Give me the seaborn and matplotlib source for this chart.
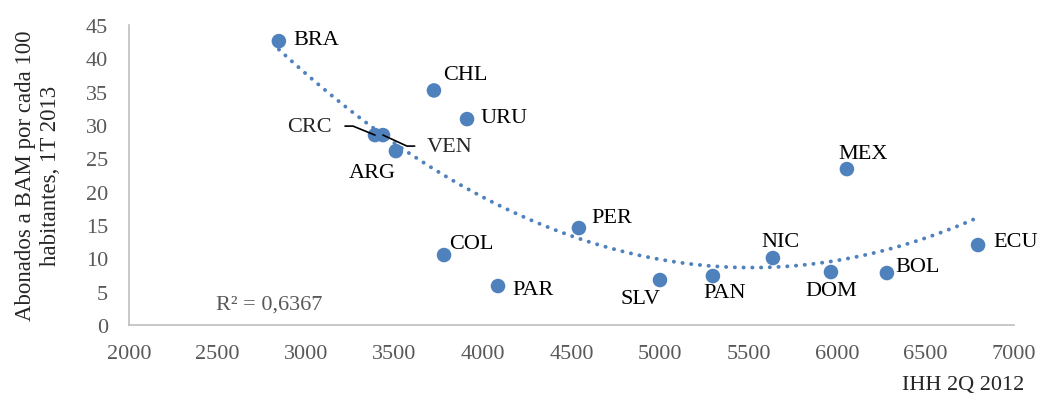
import numpy as np
import pandas as pd
import matplotlib
matplotlib.use("Agg")
import matplotlib.pyplot as plt
import seaborn as sns

# data
countries = ["BRA", "CHL", "URU", "CRC", "VEN", "ARG", "COL", "PAR", "PER",
             "SLV", "PAN", "NIC", "DOM", "BOL", "MEX", "ECU"]
ihh = [2847, 3723, 3910, 3390, 3435, 3508, 3780, 4085, 4542,
       5000, 5299, 5638, 5966, 6282, 6056, 6797]
abonados = [42.6, 35.2, 30.9, 28.5, 28.5, 26.1, 10.5, 5.85, 14.55,
            6.75, 7.35, 10.05, 7.95, 7.8, 23.4, 12.0]
x_ticks = [2000, 2500, 3000, 3500, 4000, 4500, 5000, 5500, 6000, 6500, 7000]
y_ticks = [0, 5, 10, 15, 20, 25, 30, 35, 40, 45]
r2_text = "R² = 0,6367"

# label placement (offset in pixels from the marker, alignment)
label_pos = {
    "BRA": (14, 2, "left", "center"),
    "CHL": (9, 16, "left", "center"),
    "URU": (13, 2, "left", "center"),
    "ARG": (-24, -21, "center", "center"),
    "COL": (5, 12, "left", "center"),
    "PAR": (14, -3, "left", "center"),
    "PER": (12, 11, "left", "center"),
    "SLV": (-19, -18, "center", "center"),
    "PAN": (12, -16, "center", "center"),
    "NIC": (8, 17, "center", "center"),
    "DOM": (0, -18, "center", "center"),
    "BOL": (8, 7, "left", "center"),
    "MEX": (16, 16, "center", "center"),
    "ECU": (15, 4, "left", "center"),
}

df = pd.DataFrame({"pais": countries, "ihh": ihh, "abonados": abonados})

sns.set_theme(style="white")
plt.rcParams["font.family"] = ["Liberation Serif", "DejaVu Serif"]

blue = "#4F81BD"
fig = plt.figure(figsize=(10.4, 4.02), dpi=100)
ax = fig.add_axes([0.124, 0.189, 0.851, 0.746])

# polynomial (order 2) trendline
coef = np.polyfit(df["ihh"], df["abonados"], 2)
xs = np.linspace(df["ihh"].min(), df["ihh"].max(), 200)
ax.plot(xs, np.polyval(coef, xs), color=blue, lw=2.8,
        linestyle=(0, (0.05, 2.2)), dash_capstyle="round", zorder=2)

sns.scatterplot(data=df, x="ihh", y="abonados", ax=ax, color=blue, s=110,
                edgecolor="none", zorder=3, legend=False)

for name, xv, yv in zip(countries, ihh, abonados):
    if name in label_pos:
        dx, dy, ha, va = label_pos[name]
        ax.annotate(name, (xv, yv), xytext=(dx, dy), textcoords="offset pixels",
                    ha=ha, va=va, fontsize=16, color="black", zorder=4)

# leader-line labels (arm lengths are in pixels, shrink in points)
crc = countries.index("CRC")
ven = countries.index("VEN")
ax.annotate("CRC", (ihh[crc], abonados[crc]), xytext=(-43, 9),
            textcoords="offset pixels", ha="right", va="center", fontsize=16,
            arrowprops=dict(arrowstyle="-", color="black", lw=1.2, relpos=(1, 0.5),
                            shrinkA=7, shrinkB=0,
                            connectionstyle="arc,angleA=0,armA=21,angleB=0,armB=0,rad=0"),
            zorder=4)
ax.annotate("VEN", (ihh[ven], abonados[ven]), xytext=(44, -11),
            textcoords="offset pixels", ha="left", va="center", fontsize=16,
            arrowprops=dict(arrowstyle="-", color="black", lw=1.2, relpos=(0, 0.5),
                            shrinkA=6.5, shrinkB=0,
                            connectionstyle="arc,angleA=180,armA=20,angleB=0,armB=0,rad=0"),
            zorder=4)

ax.text(0.158, 0.07, r2_text, transform=ax.transAxes, fontsize=16,
        color="#595959", ha="center", va="center")

ax.set_xlim(2000, 7000)
ax.set_ylim(0, 45)
ax.set_xticks(x_ticks)
ax.set_yticks(y_ticks)
ax.tick_params(axis="both", length=0, labelsize=16, labelcolor="#595959")
ax.tick_params(axis="x", pad=14)
ax.tick_params(axis="y", pad=15)
for side in ["top", "right"]:
    ax.spines[side].set_visible(False)
for side in ["left", "bottom"]:
    ax.spines[side].set_color("#BFBFBF")
    ax.spines[side].set_linewidth(1.2)
ax.set_xlabel("")
ax.set_ylabel("")

fig.text(0.985, 0.04, "IHH 2Q 2012", ha="right", va="center", fontsize=16)
fig.text(0.0365, 0.5625, "Abonados a BAM por cada 100\nhabitantes, 1T 2013",
         rotation=90, ha="center", va="center", multialignment="center",
         fontsize=16.5, linespacing=1.2)

fig.savefig("out.png", dpi=100)
